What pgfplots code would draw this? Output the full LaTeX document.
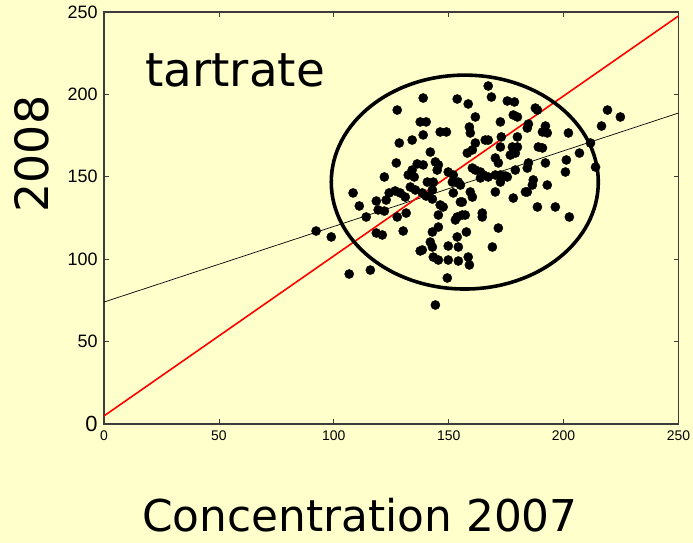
\documentclass[border=0pt]{standalone}
\usepackage{pgfplots}
\pgfplotsset{compat=1.18}
\usepackage{fontspec}
\setmainfont{Liberation Sans}
\newfontfamily\comic{DejaVu Sans}
\definecolor{bg}{RGB}{255,255,204}
\definecolor{axgray}{RGB}{60,60,60}

\begin{document}
\begin{tikzpicture}
\path[use as bounding box, fill=bg] (-104bp,-119bp) rectangle (589bp,424bp);
\begin{axis}[
    at={(0,0)}, anchor=south west,
    scale only axis, width=574.5bp, height=412bp,
    xmin=0, xmax=250, ymin=0, ymax=250,
    xtick={0,50,...,250}, ytick={0,50,...,250},
    yticklabels={{\fontsize{22}{22}\selectfont 0},50,100,150,200,250},
    tick align=inside, major tick length=5bp,
    axis line style={draw=axgray, line width=1.1pt},
    every tick/.style={axgray, line width=0.8pt},
    /pgf/number format/assume math mode=true,
    xticklabel style={font=\fontsize{14}{14}\selectfont, yshift=-3bp},
    yticklabel style={font=\fontsize{18}{18}\selectfont, xshift=-3bp},
    ]

% scatter
\addplot[only marks, mark=*, mark size=4.6pt, mark options={fill=black, draw=black}] coordinates {
(92.3,117.1) (98.9,113.5) (106.7,91.0) (115.9,93.4) (108.4,140.2) (111.1,132.3)
(114.1,125.6) (118.5,135.3) (122.8,135.9) (119.3,129.9) (122.0,129.2) (118.5,115.9)
(121.1,114.7) (127.6,125.6) (131.5,128.0) (130.2,117.1) (137.6,105.0) (122.0,149.9)
(127.2,158.4) (127.6,190.5) (128.5,170.5) (134.1,172.3) (138.9,197.8) (137.6,183.3)
(138.9,175.4) (136.3,157.8) (134.1,154.1) (135.0,149.9) (132.4,151.1) (124.1,140.2)
(126.7,141.4) (128.9,140.2) (131.1,137.7) (133.3,143.8) (135.5,142.0) (138.5,140.2)
(140.2,138.3) (142.9,136.5) (142.0,165.0) (144.2,159.0) (145.5,157.2) (145.0,154.1)
(138.9,157.2) (140.7,146.8) (143.3,146.8) (142.9,142.0) (146.3,177.2) (149.0,177.2)
(153.7,197.2) (158.5,194.2) (167.2,205.1) (168.6,198.4) (175.5,196.0) (178.6,195.4)
(187.7,191.7) (161.6,186.3) (172.5,183.3) (178.1,187.5) (179.9,186.3) (159.0,180.2)
(159.4,176.6) (172.9,174.2) (184.7,182.0) (184.2,179.6) (179.9,174.2) (165.9,172.3)
(167.2,172.3) (161.6,170.5) (172.5,168.1) (177.7,168.1) (179.9,168.1) (179.0,164.4)
(176.8,163.2) (158.1,164.4) (160.3,166.3) (170.3,161.4) (171.6,158.4) (184.7,158.4)
(184.2,155.3) (179.0,154.1) (160.3,155.3) (161.6,154.1) (163.8,152.9) (165.1,151.1)
(163.8,149.3) (170.3,151.1) (172.5,151.1) (174.7,150.5) (172.5,146.8) (152.0,151.1)
(149.8,152.9) (151.6,146.8) (154.2,146.8) (186.8,148.1) (186.4,145.0) (184.2,140.8)
(188.6,190.5) (219.1,190.5) (224.7,186.3) (192.1,180.8) (190.8,177.2) (192.9,176.6)
(202.1,176.6) (216.5,180.8) (189.0,168.1) (190.8,167.5) (211.7,170.5) (206.9,164.4)
(192.1,158.4) (201.2,160.2) (200.8,152.9) (213.9,155.9) (192.9,145.0) (188.6,131.7)
(196.4,131.7) (202.5,125.6) (146.3,132.9) (147.6,131.7) (145.5,126.8) (152.0,140.2)
(155.1,134.7) (160.3,137.7) (159.4,140.8) (153.7,125.6) (155.9,126.8) (157.2,126.8)
(152.9,123.8) (164.6,128.0) (164.6,125.6) (171.6,118.9) (170.3,140.8) (178.1,137.1)
(183.4,140.8) (145.5,119.5) (142.9,116.5) (157.7,116.5) (153.7,113.5) (142.0,110.4)
(142.9,107.4) (149.8,108.0) (154.2,107.4) (138.5,105.6) (143.3,101.3) (145.5,99.5)
(149.8,99.5) (154.2,98.9) (158.5,101.3) (159.0,96.5) (169.0,107.4) (149.4,88.6)
(144.2,72.2) (155.1,145.0) (155.9,134.7) (140.2,183.3) (167.2,149.9) (175.5,149.9)
};

% regression line
\addplot[black, line width=0.7pt] coordinates {(0,74.0) (250,188.7)};
% identity-like line
\addplot[red, line width=1.6pt] coordinates {(0,4.9) (250,247.6)};

\draw[line width=3.6pt] (axis cs:157,146.8) ellipse [x radius=58.1, y radius=64.9];

\node[font=\comic\fontsize{47}{47}\selectfont] at (axis cs:57,214.8) {tartrate};
\end{axis}

\node[font=\comic\fontsize{44}{44}\selectfont] at (256bp,-91bp) {Concentration 2007};
\node[rotate=90, font=\comic\fontsize{46}{46}\selectfont] at (-72bp,270bp) {2008};
\end{tikzpicture}
\end{document}
